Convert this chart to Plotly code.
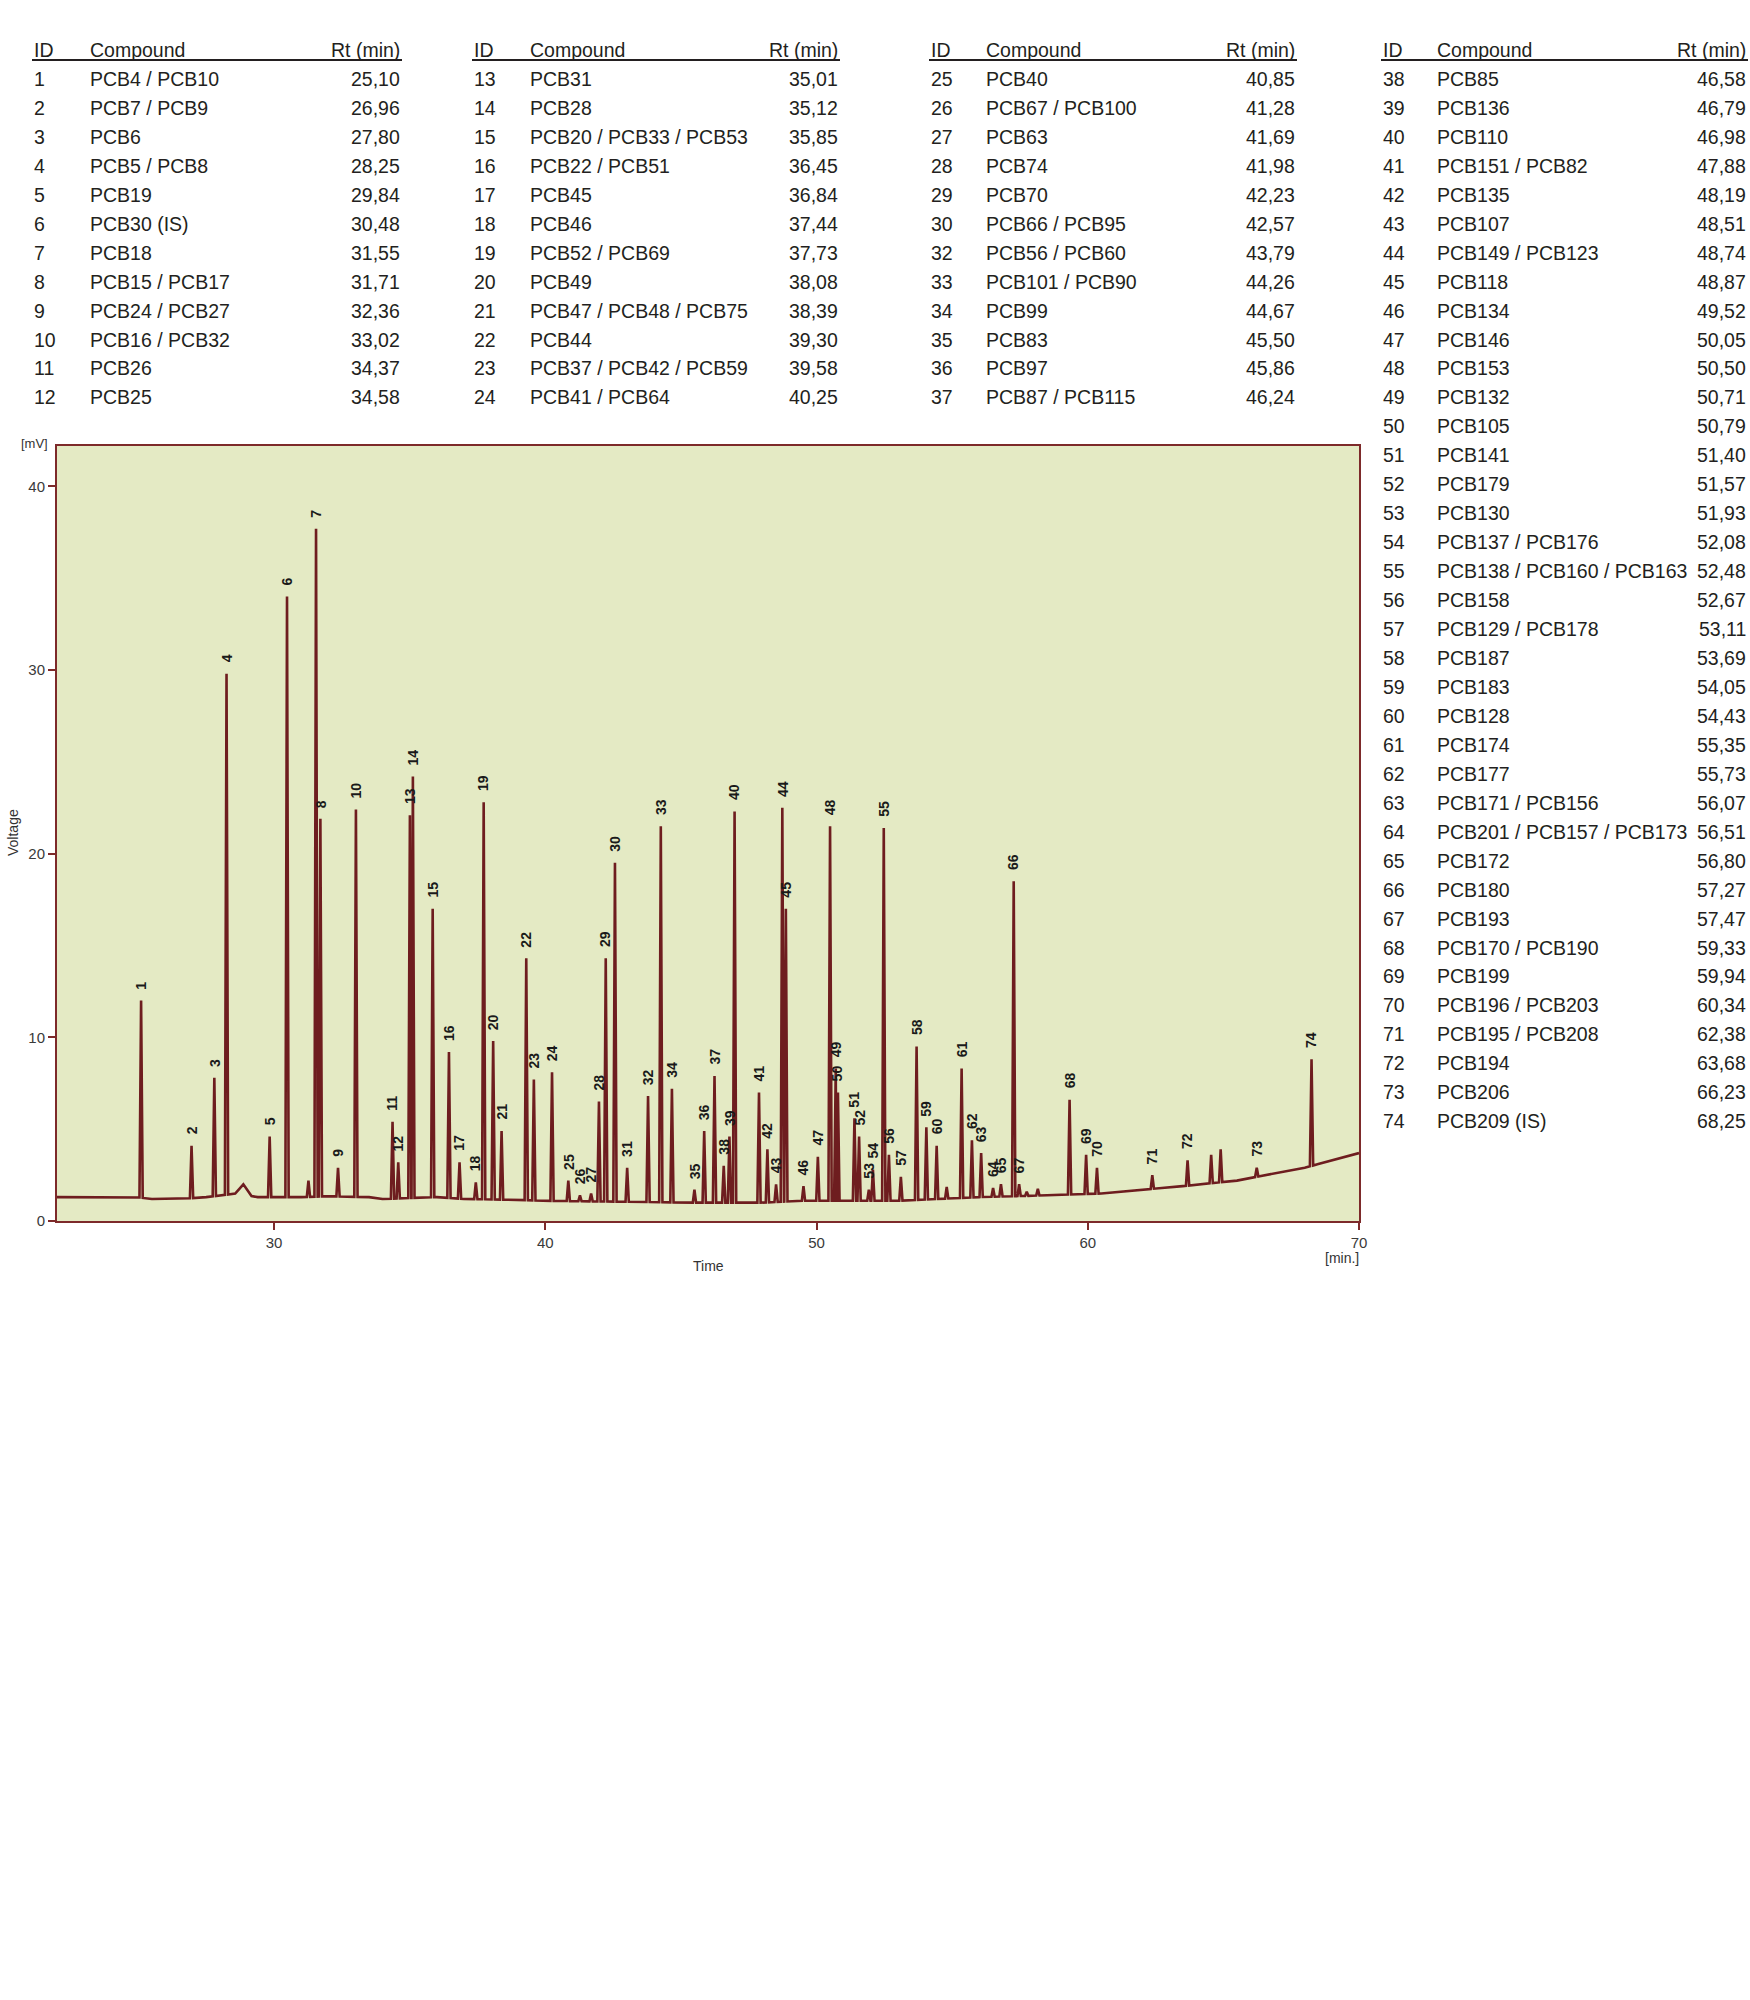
import numpy as np
import plotly.graph_objects as go

# ---------------- DATA ----------------
table_ids = [1, 2, 3, 4, 5, 6, 7, 8, 9, 10, 11, 12,
             13, 14, 15, 16, 17, 18, 19, 20, 21, 22, 23, 24,
             25, 26, 27, 28, 29, 30, 32, 33, 34, 35, 36, 37,
             38, 39, 40, 41, 42, 43, 44, 45, 46, 47, 48, 49, 50, 51, 52, 53, 54, 55,
             56, 57, 58, 59, 60, 61, 62, 63, 64, 65, 66, 67, 68, 69, 70, 71, 72, 73, 74]

compounds = ["PCB4 / PCB10", "PCB7 / PCB9", "PCB6", "PCB5 / PCB8", "PCB19", "PCB30 (IS)",
             "PCB18", "PCB15 / PCB17", "PCB24 / PCB27", "PCB16 / PCB32", "PCB26", "PCB25",
             "PCB31", "PCB28", "PCB20 / PCB33 / PCB53", "PCB22 / PCB51", "PCB45", "PCB46",
             "PCB52 / PCB69", "PCB49", "PCB47 / PCB48 / PCB75", "PCB44", "PCB37 / PCB42 / PCB59",
             "PCB41 / PCB64",
             "PCB40", "PCB67 / PCB100", "PCB63", "PCB74", "PCB70", "PCB66 / PCB95",
             "PCB56 / PCB60", "PCB101 / PCB90", "PCB99", "PCB83", "PCB97", "PCB87 / PCB115",
             "PCB85", "PCB136", "PCB110", "PCB151 / PCB82", "PCB135", "PCB107",
             "PCB149 / PCB123", "PCB118", "PCB134", "PCB146", "PCB153", "PCB132", "PCB105",
             "PCB141", "PCB179", "PCB130", "PCB137 / PCB176", "PCB138 / PCB160 / PCB163",
             "PCB158", "PCB129 / PCB178", "PCB187", "PCB183", "PCB128", "PCB174", "PCB177",
             "PCB171 / PCB156", "PCB201 / PCB157 / PCB173", "PCB172", "PCB180", "PCB193",
             "PCB170 / PCB190", "PCB199", "PCB196 / PCB203", "PCB195 / PCB208", "PCB194",
             "PCB206", "PCB209 (IS)"]

rt_min = [25.10, 26.96, 27.80, 28.25, 29.84, 30.48, 31.55, 31.71, 32.36, 33.02, 34.37, 34.58,
          35.01, 35.12, 35.85, 36.45, 36.84, 37.44, 37.73, 38.08, 38.39, 39.30, 39.58, 40.25,
          40.85, 41.28, 41.69, 41.98, 42.23, 42.57, 43.79, 44.26, 44.67, 45.50, 45.86, 46.24,
          46.58, 46.79, 46.98, 47.88, 48.19, 48.51, 48.74, 48.87, 49.52, 50.05, 50.50, 50.71,
          50.79, 51.40, 51.57, 51.93, 52.08, 52.48, 52.67, 53.11, 53.69, 54.05, 54.43, 55.35,
          55.73, 56.07, 56.51, 56.80, 57.27, 57.47, 59.33, 59.94, 60.34, 62.38, 63.68, 66.23,
          68.25]

table_columns = [[1, 2, 3, 4, 5, 6, 7, 8, 9, 10, 11, 12],
                 [13, 14, 15, 16, 17, 18, 19, 20, 21, 22, 23, 24],
                 [25, 26, 27, 28, 29, 30, 32, 33, 34, 35, 36, 37],
                 list(range(38, 75))]

# labelled peak 31 appears in the chromatogram but not in the table
extra_peak_ids = [31]
extra_peak_rt = [43.02]

# peak apex heights [mV] for peak IDs 1..74
peak_height = [12.0, 4.1, 7.8, 29.8, 4.6, 34.0, 37.7, 21.9, 2.9, 22.4,
               5.4, 3.2, 22.1, 24.2, 17.0, 9.2, 3.2, 2.1, 22.8, 9.8,
               4.9, 14.3, 7.7, 8.1, 2.2, 1.4, 1.5, 6.5, 14.3, 19.5,
               2.9, 6.8, 21.5, 7.2, 1.7, 4.9, 7.9, 3.0, 4.6, 22.3,
               7.0, 3.9, 2.0, 22.5, 17.0, 1.9, 3.5, 21.5, 8.3, 7.0,
               5.6, 4.6, 1.7, 2.8, 21.4, 3.6, 2.4, 9.5, 5.1, 4.1,
               8.3, 4.4, 3.7, 1.8, 2.0, 18.5, 2.0, 6.6, 3.6, 2.9,
               2.5, 3.3, 2.9, 8.8]

# unlabelled minor peaks (time, height)
minor_rt = [28.87, 31.27, 54.80, 57.75, 58.16, 64.55, 64.90]
minor_height = [2.0, 2.2, 1.85, 1.6, 1.75, 3.6, 3.9]

# baseline of the trace (time, voltage)
base_t = [22.0, 24.9, 25.5, 26.5, 27.5, 28.6, 29.4, 30.0, 31.0, 32.0, 33.5, 34.0, 36.0, 37.0,
          39.0, 40.0, 45.5, 48.0, 49.5, 53.0, 56.0, 58.5, 60.5, 62.0, 63.5, 65.5, 66.2, 68.0,
          68.5, 70.0]
base_v = [1.3, 1.3, 1.2, 1.2, 1.3, 1.5, 1.3, 1.3, 1.3, 1.35, 1.3, 1.2, 1.3, 1.2,
          1.15, 1.1, 1.0, 1.0, 1.1, 1.1, 1.3, 1.4, 1.5, 1.7, 1.9, 2.2, 2.4, 2.9,
          3.1, 3.7]

x_ticks = [30, 40, 50, 60, 70]
y_ticks = [0, 10, 20, 30, 40]

# ---------------- BUILD TRACE ----------------
rt_by_id = dict(zip(table_ids, rt_min))
rt_by_id.update(dict(zip(extra_peak_ids, extra_peak_rt)))
peak_ids = list(range(1, 75))
peak_rt = [rt_by_id[i] for i in peak_ids]

HW = 0.06          # half width of a peak foot (minutes)
HW_BROAD = 0.30    # half width of the broad bump
all_peaks = list(zip(peak_rt, peak_height, [HW] * len(peak_rt)))
all_peaks += [(t, h, HW_BROAD if t == 28.87 else HW) for t, h in zip(minor_rt, minor_height)]

pts = []
for t, v in zip(base_t, base_v):
    if all(abs(t - p[0]) > p[2] for p in all_peaks):
        pts.append((t, v))
for t, h, w in all_peaks:
    b1 = float(np.interp(t - w, base_t, base_v))
    b2 = float(np.interp(t + w, base_t, base_v))
    pts += [(t - w, b1), (t, h), (t + w, b2)]
pts.sort(key=lambda p: p[0])
trace_t = [p[0] for p in pts]
trace_v = [p[1] for p in pts]

MAROON = "#6e1d1f"
FRAME = "#7d2a2a"

fig = go.Figure()
fig.add_trace(go.Scatter(x=trace_t, y=trace_v, mode="lines",
                         line=dict(color=MAROON, width=2.6), hoverinfo="skip",
                         showlegend=False))

# ---------------- LAYOUT ----------------
W, H = 1750, 2000
L, R, T, B = 57, 1359, 446, 1221


def px(x):
    return (x - L) / (R - L)


def py(y):
    return (B - y) / (B - T)


annotations = []
# peak labels
for pid, t, h in zip(peak_ids, peak_rt, peak_height):
    annotations.append(dict(x=t, y=h, xref="x", yref="y", text=str(pid), showarrow=False,
                            textangle=-90, xanchor="center", yanchor="bottom", yshift=9,
                            font=dict(family="Liberation Sans, Arial, sans-serif", size=14,
                                      color="#1a1a1a", weight="bold")))

# tables
TFONT = "Liberation Sans, Arial, sans-serif"
TSIZE = 19.5
TCOL = "#231f20"
col_x = [(32, 88, 402), (472, 528, 840), (929, 984, 1297), (1381, 1435, 1748)]
HEAD_Y = 50
ROW0_Y = 79
ROW_DY = 28.95
comp_by_id = dict(zip(table_ids, compounds))
shapes = []
for (xid, xcomp, xrt), ids in zip(col_x, table_columns):
    for txt, x, anc in [("ID", xid, "left"), ("Compound", xcomp, "left"), ("Rt (min)", xrt, "right")]:
        annotations.append(dict(x=px(x), y=py(HEAD_Y), xref="paper", yref="paper", text=txt,
                                showarrow=False, xanchor=anc, yanchor="middle",
                                font=dict(family=TFONT, size=TSIZE, color=TCOL)))
    shapes.append(dict(type="line", xref="paper", yref="paper", x0=px(xid), x1=px(xrt),
                       y0=py(60), y1=py(60), line=dict(color=TCOL, width=1.8)))
    for k, i in enumerate(ids):
        yy = py(ROW0_Y + k * ROW_DY)
        rt_txt = f"{rt_by_id[i]:.2f}".replace(".", ",")
        for txt, x, anc in [(str(i), xid, "left"), (comp_by_id[i], xcomp, "left"), (rt_txt, xrt, "right")]:
            annotations.append(dict(x=px(x), y=yy, xref="paper", yref="paper", text=txt,
                                    showarrow=False, xanchor=anc, yanchor="middle",
                                    font=dict(family=TFONT, size=TSIZE, color=TCOL)))

AFONT = dict(family="Liberation Sans, Arial, sans-serif", size=14, color="#333333")
annotations += [
    dict(x=px(34), y=py(444), xref="paper", yref="paper", text="[mV]", showarrow=False,
         xanchor="center", yanchor="middle", font=dict(AFONT, size=13)),
    dict(x=px(13), y=py(833), xref="paper", yref="paper", text="Voltage", showarrow=False,
         textangle=-90, xanchor="center", yanchor="middle", font=AFONT),
    dict(x=px(708), y=py(1266), xref="paper", yref="paper", text="Time", showarrow=False,
         xanchor="center", yanchor="middle", font=AFONT),
    dict(x=px(1342), y=py(1258), xref="paper", yref="paper", text="[min.]", showarrow=False,
         xanchor="center", yanchor="middle", font=AFONT),
]

axis_common = dict(showline=True, linecolor=FRAME, linewidth=2, mirror=True, ticks="outside",
                   ticklen=7, tickwidth=2, tickcolor=FRAME, showgrid=False, zeroline=False,
                   tickfont=dict(family="Liberation Sans, Arial, sans-serif", size=15,
                                 color="#3a3a3a"))

fig.update_layout(
    width=W, height=H,
    margin=dict(l=L, r=W - R, t=T, b=H - B, pad=0),
    plot_bgcolor="#e4eac4", paper_bgcolor="white",
    xaxis=dict(range=[22, 70], tickvals=x_ticks, **axis_common),
    yaxis=dict(range=[0, 42.2], tickvals=y_ticks, **axis_common),
    annotations=annotations, shapes=shapes, showlegend=False,
)

fig.write_html("out.html", config={"displayModeBar": False},
               post_script="document.body.style.margin='0';")
